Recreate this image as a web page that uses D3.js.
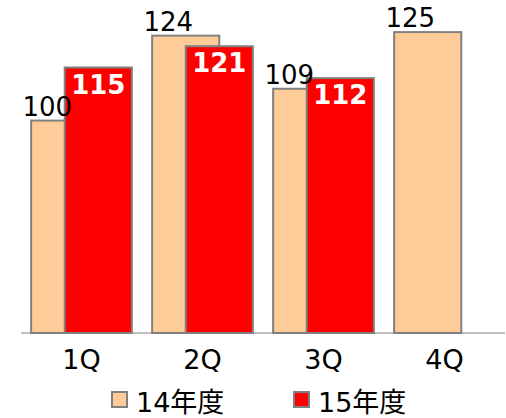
<!DOCTYPE html>
<html><head><meta charset="utf-8">
<script src="https://cdn.jsdelivr.net/npm/d3@7"></script>
<style>body{margin:0;background:#fff}</style>
</head><body>
<script>
const categories = ["1Q","2Q","3Q","4Q"];
const fy14 = [100,124,109,125];
const fy15 = [115,121,112,null];
const seriesNames = ["14年度","15年度"];
const colors = ["#FFCC99","#FF0000"];

const W = 506, H = 418;
const svg = d3.select("body").append("svg").attr("width",W).attr("height",H);
const font = "'DejaVu Sans', Verdana, 'Noto Sans CJK JP', sans-serif";

const x = d3.scaleBand().domain(categories).range([21,505]);
const y = d3.scaleLinear().domain([40,130]).range([333, 333-90*3.54]);
const bw = x.bandwidth();
const barW = bw*0.555;
const off = barW/2;
const gs = (bw - 1.5*barW)/2;

svg.append("line").attr("x1",21).attr("x2",505).attr("y1",y(40)).attr("y2",y(40))
  .attr("stroke","#808080").attr("stroke-width",1);

const bars = svg.append("g"), labels = svg.append("g");
categories.forEach((c,i)=>{
  const x0 = x(c)+gs;
  bars.append("rect").attr("x",x0).attr("y",y(fy14[i])).attr("width",barW).attr("height",y(40)-y(fy14[i]))
    .attr("fill",colors[0]).attr("stroke","#808080").attr("stroke-width",2);
  labels.append("text").attr("x",x0+barW*0.24).attr("y",y(fy14[i])-5).attr("text-anchor","middle")
    .attr("font-family",font).attr("font-size",26).attr("fill","#000").text(fy14[i]);
  if (fy15[i]!=null){
    bars.append("rect").attr("x",x0+off).attr("y",y(fy15[i])).attr("width",barW).attr("height",y(40)-y(fy15[i]))
      .attr("fill",colors[1]).attr("stroke","#808080").attr("stroke-width",2);
    labels.append("text").attr("x",x0+off+barW/2).attr("y",y(fy15[i])+26).attr("text-anchor","middle")
      .attr("font-family",font).attr("font-size",26).attr("font-weight","bold").attr("fill","#fff").text(fy15[i]);
  }
  labels.append("text").attr("x",x(c)+bw/2).attr("y",369).attr("text-anchor","middle")
    .attr("font-family",font).attr("font-size",27).attr("fill","#000").text(c);
});

const legX = [111,293];
seriesNames.forEach((n,i)=>{
  svg.append("rect").attr("x",legX[i]+1).attr("y",392).attr("width",15).attr("height",15)
    .attr("fill",colors[i]).attr("stroke","#808080").attr("stroke-width",2);
  svg.append("text").attr("x",legX[i]+25).attr("y",412).attr("font-family",font).attr("font-size",27)
    .attr("fill","#000").text(n);
});
</script>
</body></html>
